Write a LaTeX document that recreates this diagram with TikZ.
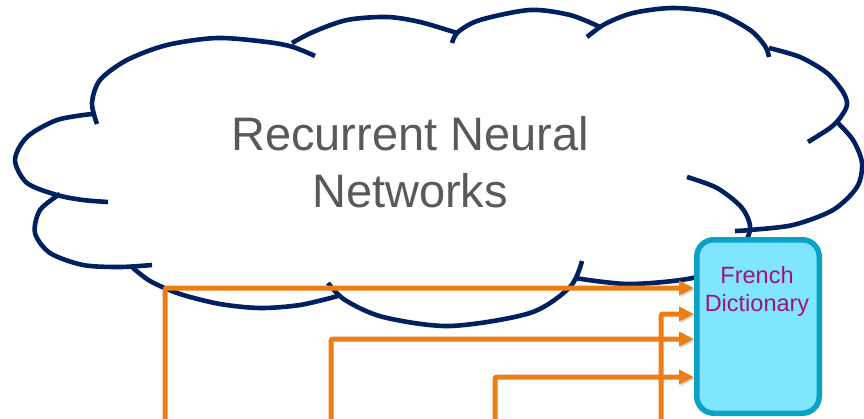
\documentclass[tikz,border=0pt]{standalone}
\usepackage{fontspec}
\setmainfont{Liberation Sans}
\usetikzlibrary{arrows.meta}
\definecolor{cloudline}{HTML}{002060}
\definecolor{flow}{HTML}{EE7E14}
\definecolor{dictfill}{HTML}{80E5FF}
\definecolor{dictline}{HTML}{0BA0C6}
\definecolor{dicttext}{HTML}{A3117C}
\definecolor{titlegray}{HTML}{595959}

\begin{document}
\begin{tikzpicture}[x=1pt,y=-1pt,
  bump/.style={draw=cloudline, line width=4.6pt, line join=round},
  title/.style={text=titlegray, font=\fontsize{47}{57}\selectfont, inner sep=0pt},
  dictbox/.style={draw=dictline, fill=dictfill, line width=5.5pt, rounded corners=17pt,
    minimum width=122.5pt, minimum height=173.5pt, inner sep=0pt},
  dictlabel/.style={text=dicttext, font=\fontsize{23.5}{28.5}\selectfont, inner sep=0pt},
  flowarrow/.style={draw=flow, line width=5pt, rounded corners=2pt,
    -{Triangle[length=15pt,width=14pt]},
    preaction={draw=black, opacity=0.14, transform canvas={shift={(1.5pt,-1.8pt)}}}}]

\useasboundingbox (0,0) rectangle (864,418);

% cloud outline, one arc per lobe (lobes overlap slightly at the joins)
\draw[bump] plot[smooth] coordinates {(92,114) (57,120) (27,137) (15,160) (27,183) (57,195) (83,200) (108,202)};
\draw[bump] plot[smooth] coordinates {(97,124) (92,103) (100,80) (127,60) (167,45) (217,38) (267,42) (293,47) (315,56)};
\draw[bump] plot[smooth] coordinates {(292,43) (313,32) (347,20) (387,17) (420,22) (457,33)};
\draw[bump] plot[smooth] coordinates {(452,43) (458,32) (480,20) (530,10) (570,15) (600,27)};
\draw[bump] plot[smooth] coordinates {(587,37) (605,24) (633,13) (673,8) (717,13) (750,30) (765,46) (769,57)};
\draw[bump] plot[smooth] coordinates {(769,48) (800,57) (827,73) (843,92) (847,105) (840,118) (830,128) (808,142)};
\draw[bump] plot[smooth] coordinates {(837,122) (853,140) (862,163) (857,187) (833,210) (793,225) (750,230) (735,231)};
\draw[bump] plot[smooth] coordinates {(575,278) (630,284) (697,277) (735,256) (750,230) (742,208) (717,188) (687,177)};
\draw[bump] plot[smooth] coordinates {(582,261) (570,287) (530,313) (450,326) (383,317) (345,300) (328,283)};
\draw[bump] plot[smooth] coordinates {(338,296) (300,305) (260,308) (220,304) (180,294) (150,281) (132,267)};
\draw[bump] plot[smooth] coordinates {(152,265) (120,267) (83,265) (50,253) (35,233) (40,210) (60,194)};

% cloud caption
\node[title, anchor=base] (rnn1) at (410,150) {Recurrent Neural};
\node[title, anchor=base] (rnn2) at (410,207) {Networks};

% dictionary box
\node[dictbox] (dict) at (758,326.5) {};
\node[dictlabel, anchor=base] (dlab1) at (757,283) {French};
\node[dictlabel, anchor=base] (dlab2) at (757,311.5) {Dictionary};

% feeds into the dictionary
\coordinate (s1) at (165,425);
\coordinate (s2) at (661,425);
\coordinate (s3) at (331,425);
\coordinate (s4) at (495,425);
\coordinate (t1) at (dict.west |- 0,288);
\coordinate (t2) at (dict.west |- 0,314);
\coordinate (t3) at (dict.west |- 0,339);
\coordinate (t4) at (dict.west |- 0,377);

\draw[flowarrow] (s4) |- (t4);
\draw[flowarrow] (s3) |- (t3);
\draw[flowarrow] (s2) |- (t2);
\draw[flowarrow] (s1) |- (t1);
\end{tikzpicture}
\end{document}
